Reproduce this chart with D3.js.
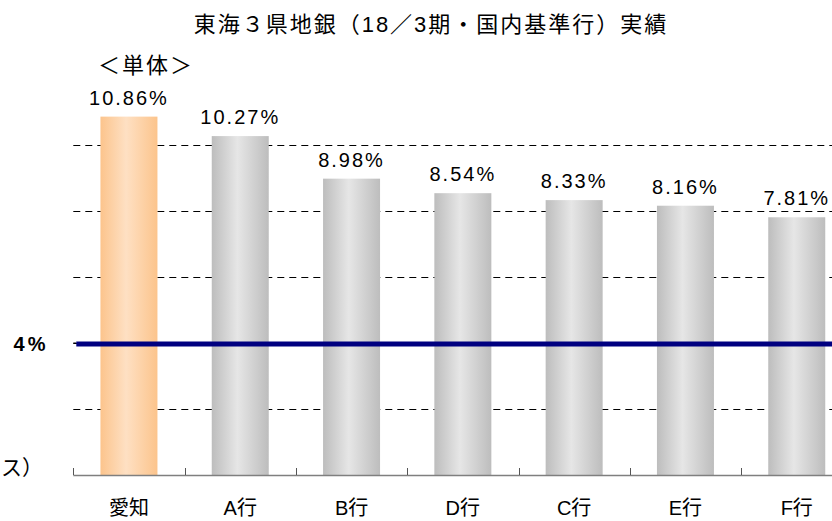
<!DOCTYPE html>
<html>
<head>
<meta charset="utf-8">
<script src="https://cdn.jsdelivr.net/npm/d3@7"></script>
<style>
  body { margin: 0; background: #fff; }
  text { font-family: "Liberation Sans", "Noto Sans CJK JP", sans-serif; fill: #000; }
</style>
</head>
<body>
<div class="graph-div"></div>
<script>
var outerWidth = 832;
var outerHeight = 521;

// data
var banks = ["愛知", "A行", "B行", "D行", "C行", "E行", "F行"];
var ratios = [10.86, 10.27, 8.98, 8.54, 8.33, 8.16, 7.81];
var gridTicks = [2, 6, 8, 10];
var baseLine = 4;
var titleText = "東海３県地銀（18／3期・国内基準行）実績";
var subTitle = "＜単体＞";
var axisNote = "ス）";   // only the tail of the axis note shows at the left edge

var plotLeft = 73.3, plotBottom = 475, plotTop = 79;
var step = 111.3;

var svg = d3.select(".graph-div").append("svg")
    .attr("width", outerWidth)
    .attr("height", outerHeight);

var defs = svg.append("defs");
function addGrad(id, edge, mid) {
  var gr = defs.append("linearGradient").attr("id", id)
      .attr("x1", "0%").attr("x2", "100%").attr("y1", "0%").attr("y2", "0%");
  gr.append("stop").attr("offset", "0%").attr("stop-color", edge);
  gr.append("stop").attr("offset", "45%").attr("stop-color", mid);
  gr.append("stop").attr("offset", "100%").attr("stop-color", edge);
}
addGrad("gray", "#bdbdbd", "#e6e6e6");
addGrad("orange", "#fcc48c", "#fee0c3");

var xScale = d3.scaleBand()
    .domain(banks)
    .range([plotLeft, plotLeft + step * banks.length])
    .padding(0);

var yScale = d3.scaleLinear()
    .domain([0, 12])
    .range([plotBottom, plotTop]);

var barWidth = 57;

// dashed grid
svg.append("g").selectAll("line")
  .data(gridTicks.concat([baseLine]))
  .enter().append("line")
    .attr("x1", plotLeft)
    .attr("x2", outerWidth)
    .attr("y1", function(d) { return Math.round(yScale(d)) + 0.5; })
    .attr("y2", function(d) { return Math.round(yScale(d)) + 0.5; })
    .attr("stroke", "#000")
    .attr("stroke-width", 1)
    .attr("stroke-dasharray", "7,5");

// bars
svg.append("g").selectAll("rect")
  .data(ratios)
  .enter().append("rect")
    .attr("x", function(d, i) { return xScale(banks[i]) + xScale.bandwidth() / 2 - barWidth / 2; })
    .attr("y", function(d) { return yScale(d); })
    .attr("width", barWidth)
    .attr("height", function(d) { return plotBottom - yScale(d); })
    .attr("fill", function(d, i) { return i === 0 ? "url(#orange)" : "url(#gray)"; });

// value labels
svg.append("g").selectAll("text")
  .data(ratios)
  .enter().append("text")
    .attr("x", function(d, i) { return xScale(banks[i]) + xScale.bandwidth() / 2; })
    .attr("y", function(d) { return yScale(d) - 12; })
    .attr("text-anchor", "middle")
    .attr("font-size", 20)
    .attr("letter-spacing", 2)
    .text(function(d) { return d.toFixed(2) + "%"; });

// x axis
var xAxis = d3.axisBottom(xScale).tickSize(0).tickFormat("");
var xAxisG = svg.append("g").attr("transform", "translate(0," + plotBottom + ")");
xAxisG.call(xAxis);
xAxisG.select(".domain").remove();
xAxisG.append("line")
    .attr("x1", plotLeft).attr("x2", outerWidth)
    .attr("y1", 0.5).attr("y2", 0.5)
    .attr("stroke", "#7f7f7f").attr("stroke-width", 1.5);
xAxisG.selectAll(".sep")
  .data(banks)
  .enter().append("line")
    .attr("x1", function(d) { return Math.round(xScale(d)) + 0.5; })
    .attr("x2", function(d) { return Math.round(xScale(d)) + 0.5; })
    .attr("y1", -7).attr("y2", 0)
    .attr("stroke", "#555");

svg.append("g").selectAll("text")
  .data(banks)
  .enter().append("text")
    .attr("x", function(d) { return xScale(d) + xScale.bandwidth() / 2; })
    .attr("y", 515)
    .attr("text-anchor", "middle")
    .attr("font-size", 20)
    .text(function(d) { return d; });

// 4% line
svg.append("line")
    .attr("x1", plotLeft).attr("x2", plotLeft + 3)
    .attr("y1", yScale(baseLine)).attr("y2", yScale(baseLine))
    .attr("stroke", "#000");
svg.append("line")
    .attr("x1", plotLeft + 3).attr("x2", outerWidth)
    .attr("y1", yScale(baseLine) + 1).attr("y2", yScale(baseLine) + 1)
    .attr("stroke", "#000080")
    .attr("stroke-width", 5);

svg.append("text")
    .attr("x", 31).attr("y", yScale(baseLine) + 8)
    .attr("text-anchor", "middle")
    .attr("font-size", 20)
    .attr("font-weight", "bold")
    .attr("letter-spacing", 3)
    .text(baseLine + "%");

svg.append("text")
    .attr("x", 1).attr("y", 475)
    .attr("font-size", 21)
    .text(axisNote);

// titles
svg.append("text")
    .attr("x", 431).attr("y", 32)
    .attr("text-anchor", "middle")
    .attr("font-size", 22)
    .attr("letter-spacing", 2)
    .text(titleText);

svg.append("text")
    .attr("x", 146).attr("y", 73)
    .attr("text-anchor", "middle")
    .attr("font-size", 22)
    .attr("letter-spacing", 2)
    .text(subTitle);
</script>
</body>
</html>
